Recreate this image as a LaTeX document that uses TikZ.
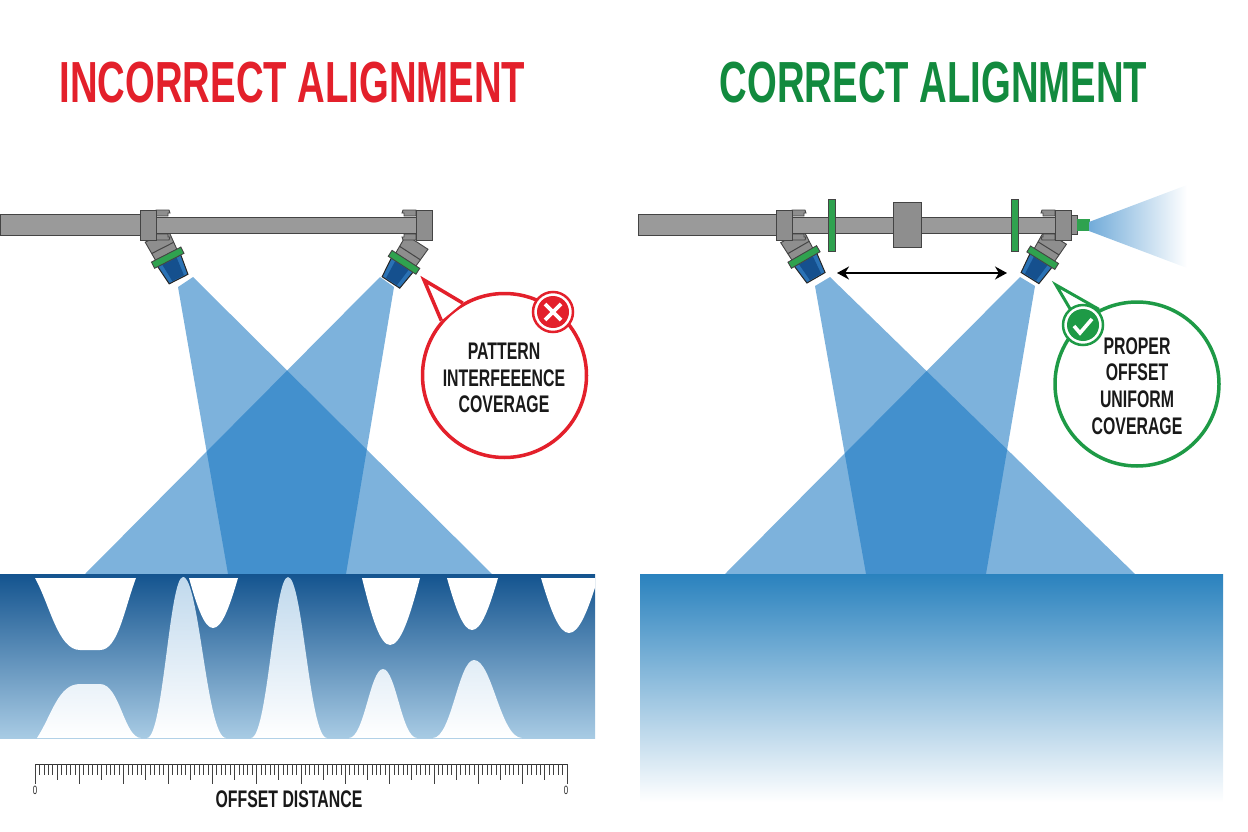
\documentclass[tikz,border=0pt]{standalone}
\usepackage{fontspec}
\usetikzlibrary{arrows.meta}
\newfontfamily\condfont[FakeStretch=0.66]{Liberation Sans}

\definecolor{badred}{HTML}{E3202B}
\definecolor{goodgreen}{HTML}{128A3E}
\definecolor{ringgreen}{HTML}{1E9A46}
\definecolor{pipegray}{HTML}{9A9A9A}
\definecolor{pipeedge}{HTML}{444444}
\definecolor{collargreen}{HTML}{2FA24F}
\definecolor{bodyblue}{HTML}{2A72B5}
\definecolor{bodydark}{HTML}{15508E}
\definecolor{beamblue}{RGB}{20,116,192}
\definecolor{floortop}{HTML}{14548F}
\definecolor{floormid}{HTML}{4C88B8}
\definecolor{floorlow}{HTML}{A8CBE4}
\definecolor{peaktop}{HTML}{BFD8EC}
\definecolor{widetop}{HTML}{2A82BE}
\definecolor{widemid}{HTML}{9CC5E3}

\newcommand{\bellpath}[4]{(#1,738) .. controls ({#1+.45*(#3-#1)},738) and ({#3-.38*(#3-#1)},#4) .. (#3,#4)
 .. controls ({#3+.38*(#2-#3)},#4) and ({#2-.45*(#2-#3)},738) .. (#2,738) -- cycle}
\newcommand{\droppath}[4]{(#1,578) .. controls ({#1+.35*(#3-#1)},{578+.6*(#4-578)}) and ({#3-.35*(#3-#1)},#4) .. (#3,#4)
 .. controls ({#3+.35*(#2-#3)},#4) and ({#2-.35*(#2-#3)},{578+.6*(#4-578)}) .. (#2,578) -- cycle}

\tikzset{
  beam/.style={fill=beamblue, fill opacity=.554},
  pipe/.style={fill=pipegray, draw=pipeedge, line width=1pt},
  fitting/.style={fill=pipegray!92!black, draw=pipeedge, line width=.9pt},
  flange/.style={fill=collargreen, draw=pipeedge, line width=.9pt},
  callout/.style={circle, fill=white, line width=3.5pt, minimum size=164pt, inner sep=0pt},
  badge/.style={circle, fill=white, line width=2.5pt, minimum size=40pt, inner sep=0pt},
  calltext/.style={align=center, text=black!90, font={\condfont\bfseries\fontsize{24}{26.7}\selectfont}},
  title/.style={font={\condfont\bfseries\fontsize{58}{58}\selectfont}},
  rulelabel/.style={text=black!85, font={\condfont\fontsize{12}{12}\selectfont}},
  nozzle/.pic={
    \draw[fitting] (-13,-24) -- (13,-24) -- (12,-3) -- (-12,-3) -- cycle;
    \draw[pipeedge, line width=1pt] (-12.5,-11) -- (12.5,-11);
    \draw[draw=black!85, fill=bodyblue, line width=1pt] (-13,3) -- (13,3) -- (10.5,24) -- (-10.5,24) -- cycle;
    \fill[bodydark] (-8,4) -- (8,4) -- (6.5,23) -- (-6.5,23) -- cycle;
    \draw[flange] (-16.5,-3.5) rectangle (16.5,3.5);
  },
  clampblock/.pic={
    \draw[fitting] (0,-9) -- (12,-9) -- (12,-12) -- (14,-12) -- (13,-15) -- (0,-15) -- cycle;
    \draw[fitting] (0,9) -- (12,9) -- (12,12) -- (14,12) -- (13,15) -- (0,15) -- cycle;
    \draw[fitting] (-16,-15) rectangle (0,15);
  }
}

\begin{document}
\begin{tikzpicture}[x=1pt,y=-1pt]
\useasboundingbox (0,0) rectangle (1248,832);

% titles
\node[title, text=badred] (badtitle) at (292.5,83) {INCORRECT ALIGNMENT};
\node[title, text=goodgreen] (goodtitle) at (933.5,83) {CORRECT ALIGNMENT};

% left sprays
\fill[beam] (178,287) -- (193,277) -- (492,574) -- (228,574) -- cycle;
\fill[beam] (380,277) -- (394,287) -- (346,574) -- (85,574) -- cycle;

% right sprays
\fill[beam] (815,286) -- (830,277) -- (1135,574) -- (866,574) -- cycle;
\fill[beam] (1020,277) -- (1035,286) -- (986,574) -- (725,574) -- cycle;

% left floor
\shade[top color=floortop, middle color=floormid, bottom color=floorlow]
  (0,574) rectangle (595,738);
\begin{scope}
\clip (0,574) rectangle (595,738);
\fill[white] (35,578) .. controls (50,605) and (58,650) .. (80,650) -- (100,650)
  .. controls (118,650) and (124,610) .. (136,578) -- cycle;
\fill[white] \droppath{189}{238}{213}{628};
\fill[white] \droppath{362}{420}{390}{645};
\fill[white] \droppath{447}{498}{472}{630};
\fill[white] \droppath{541}{598}{569}{633};
\end{scope}
\begin{scope}
\clip (37,738) .. controls (52,715) and (58,684) .. (80,684) -- (100,684)
  .. controls (120,684) and (124,738) .. (141,738) -- cycle
  \bellpath{147}{226}{183}{577}
  \bellpath{251}{327}{288}{577}
  \bellpath{349}{417}{383}{669}
  \bellpath{433}{522}{474}{660};
\shade[top color=peaktop, bottom color=white] (0,574) rectangle (595,738);
\end{scope}

% right floor
\shade[top color=widetop, middle color=widemid, bottom color=white]
  (640,574) rectangle (1223,802);

% offset ruler
\draw[black!80, line width=.9pt] (35,764) -- (567,764);
\foreach \i in {0,...,120} {
  \pgfmathtruncatemacro{\ticklong}{mod(\i,10)==0 ? 20 : (mod(\i,5)==0 ? 16 : 11)}
  \draw[black!75, line width=.7pt] ({35+\i*4.433},764) -- ++(0,\ticklong);
}
\node[rulelabel] (zeroleft) at (35,790) {0};
\node[rulelabel] (zeroright) at (566,790) {0};
\node[calltext, font={\condfont\bfseries\fontsize{24}{24}\selectfont}] (rulername) at (289,799) {OFFSET DISTANCE};

% left rig
\pic[rotate=27] at (167.7,257.7) {nozzle};
\pic[rotate=-33] at (404,262.3) {nozzle};
\fill[pipegray, draw=pipeedge, line width=.6pt] (0,214) rectangle (141,235);
\pic at (156,225) {clampblock};
\pic[xscale=-1] at (416,225) {clampblock};
\draw[pipe] (156,217) rectangle (416,233);

% right rig
\pic[rotate=30] at (804,257) {nozzle};
\pic[rotate=-32] at (1042.7,257.7) {nozzle};
\fill[pipegray, draw=pipeedge, line width=.6pt] (638,214) rectangle (776,235);
\pic at (792,225) {clampblock};
\pic[xscale=-1] at (1055,225) {clampblock};
\draw[pipe] (792,217) rectangle (1055,233);
\draw[flange] (828,199) rectangle (835,251);
\draw[flange] (1011,199) rectangle (1018,251);
\draw[fitting] (893,202) rectangle (921,247);
\draw[fitting] (1071,215) rectangle (1077,234);
\draw[flange, draw=collargreen] (1077,219) rectangle (1089,230);
\shade[left color=beamblue!60!white, right color=white] (1089,222) -- (1187,185) -- (1187,268) -- (1089,231) -- cycle;

% spacing arrow
\coordinate (gapleft) at (837,273);
\coordinate (gapright) at (1007,273);
\draw[black, line width=1.8pt, {Stealth[length=12pt,width=13pt]}-{Stealth[length=12pt,width=13pt]}] (gapleft) -- (gapright);

% red callout
\node[callout, draw=badred] (badcall) at (504.5,375.5) {};
\coordinate (badtip) at (424,280);
\fill[white] (badcall.120) -- (badtip) -- (badcall.139) -- cycle;
\draw[badred, line width=3.5pt, line join=miter] (badcall.120) -- (badtip) -- (badcall.139);
\node[calltext] (badtext) at (504,378) {PATTERN\\INTERFEEENCE\\COVERAGE};
\node[badge, draw=badred] (badmark) at (553,312) {};
\fill[badred] (badmark.center) circle (16);
\draw[white, line width=3.6pt] (badmark.center) ++(-8,-8) -- ++(16,16);
\draw[white, line width=3.6pt] (badmark.center) ++(8,-8) -- ++(-16,16);

% green callout
\node[callout, draw=ringgreen] (goodcall) at (1137,384) {};
\coordinate (goodtip) at (1056,285);
\fill[white] (goodcall.117) -- (goodtip) -- (goodcall.134) -- cycle;
\draw[ringgreen, line width=3pt, line join=miter] (goodcall.117) -- (goodtip) -- (goodcall.134);
\node[calltext] (goodtext) at (1137,386) {PROPER\\OFFSET\\UNIFORM\\COVERAGE};
\node[badge, draw=ringgreen] (goodmark) at (1083,325) {};
\fill[ringgreen] (goodmark.center) circle (16);
\draw[white, line width=3.6pt] (goodmark.center) ++(-9,1) -- ++(6,7) -- ++(12,-14);

\end{tikzpicture}
\end{document}
